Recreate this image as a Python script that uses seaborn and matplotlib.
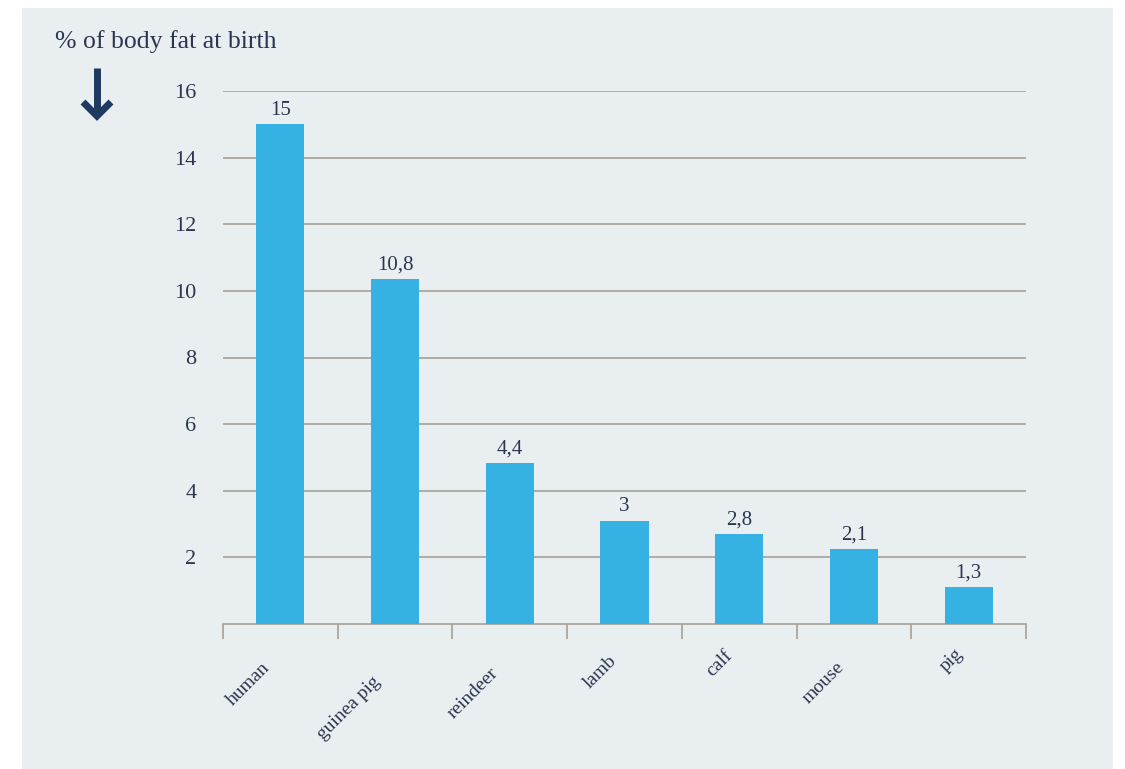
import matplotlib
matplotlib.use("Agg")
import matplotlib.pyplot as plt
import seaborn as sns
import pandas as pd
from matplotlib.patches import Rectangle
from matplotlib.lines import Line2D

animals = ["human", "guinea pig", "reindeer", "lamb", "calf", "mouse", "pig"]
bar_heights = [15.0, 10.35, 4.83, 3.09, 2.7, 2.25, 1.11]
value_labels = ["15", "10,8", "4,4", "3", "2,8", "2,1", "1,3"]
y_ticks = [2, 4, 6, 8, 10, 12, 14, 16]

BG = "#e9eff0"
BAR = "#36b1e4"
TXT = "#2b3550"
GRID = "#aaa59f"
ARROW = "#1f3a60"

sns.set_theme(style="white")
plt.rcParams["font.family"] = ["Liberation Serif", "DejaVu Serif"]

W, H = 1125, 769
fig = plt.figure(figsize=(W / 100, H / 100), dpi=100)
fig.patch.set_facecolor("white")
fig.patches.append(Rectangle((22 / W, 0), (1113 - 22) / W, (769 - 8) / H,
                             transform=fig.transFigure, facecolor=BG,
                             edgecolor="none", zorder=-10))

ax = fig.add_axes([223 / W, (H - 624) / H, (1026 - 223) / W, (624 - 91) / H])
ax.set_facecolor("none")

df = pd.DataFrame({"animal": animals, "height": bar_heights})
sns.barplot(data=df, x="animal", y="height", color=BAR, saturation=1,
            width=0.42, ax=ax, zorder=3, linewidth=0, edgecolor=BAR)

for i, (h, lab) in enumerate(zip(bar_heights, value_labels)):
    ax.annotate(lab, (i, h), xytext=(0, 7), textcoords="offset points",
                ha="center", va="baseline", fontsize=15, color=TXT)

ax.set_xlim(-0.5, len(animals) - 0.5)
ax.set_ylim(0, 16)
ax.set_yticks(y_ticks)
ax.set_yticklabels([str(t) for t in y_ticks], fontsize=16, color=TXT)
ax.tick_params(axis="y", length=0, pad=19)
ax.yaxis.grid(True, color=GRID, linewidth=1.3, zorder=0)
ax.set_axisbelow(True)

ax.set_xticks(range(len(animals)))
ax.set_xticklabels([""] * len(animals))
ax.tick_params(axis="x", which="major", length=0)
ax.set_xticks([i - 0.5 for i in range(len(animals) + 1)], minor=True)
ax.tick_params(axis="x", which="minor", length=11, width=1.3, color=GRID,
               direction="out", bottom=True)

# rotated category labels
renderer = fig.canvas.get_renderer()
for i, name in enumerate(animals):
    probe = fig.text(0, 0, name, fontsize=14)
    L = probe.get_window_extent(renderer).width
    probe.remove()
    ax.annotate(name, xy=(i, 0), xycoords=("data", "axes fraction"),
                xytext=(-0.5 * L - 5, -(0.85 * L + 15)), textcoords="offset pixels",
                ha="center", va="center", rotation=45, rotation_mode="anchor",
                fontsize=14, color=TXT, annotation_clip=False)

for s in ["top", "right", "left"]:
    ax.spines[s].set_visible(False)
ax.spines["bottom"].set_color(GRID)
ax.spines["bottom"].set_linewidth(1.3)
ax.set_xlabel("")
ax.set_ylabel("")

fig.text(55 / W, (H - 48) / H, "% of body fat at birth", fontsize=18.5,
         color=TXT, ha="left", va="baseline")

# down arrow
fig.lines.append(Line2D([97 / W, 97 / W], [(H - 68) / H, (H - 114) / H],
                        transform=fig.transFigure, color=ARROW, lw=5,
                        solid_capstyle="butt"))
fig.lines.append(Line2D([83 / W, 97 / W, 111 / W],
                        [(H - 102) / H, (H - 116) / H, (H - 102) / H],
                        transform=fig.transFigure, color=ARROW, lw=5,
                        solid_joinstyle="miter", solid_capstyle="butt"))

fig.savefig("out.png", dpi=100)
